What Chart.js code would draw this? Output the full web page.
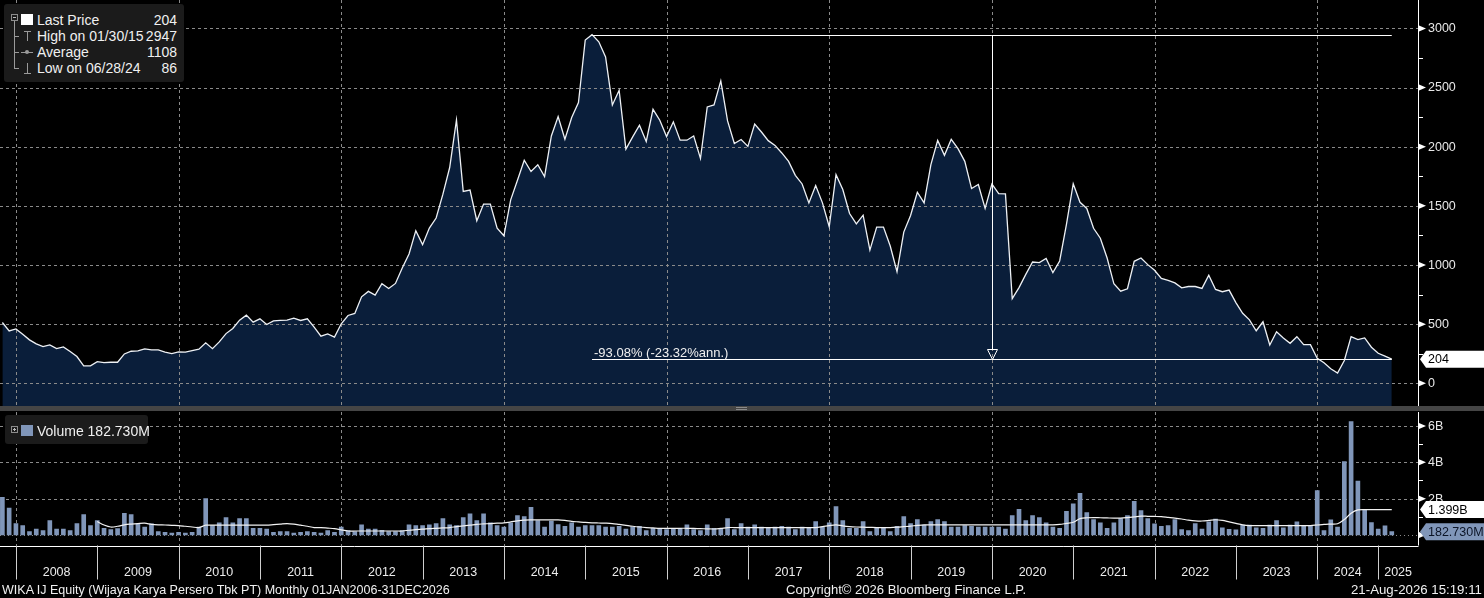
<!DOCTYPE html>
<html>
<head>
<meta charset="utf-8">
<script src="https://cdn.jsdelivr.net/npm/chart.js@4.4.1/dist/chart.umd.min.js"></script>
<style>
  html, body { margin:0; padding:0; background:#000; width:1484px; height:598px; overflow:hidden;
    font-family:"Liberation Sans", Arial, sans-serif; color:#f0f0f0; }
  canvas { position:absolute; left:0; }
  #priceCanvas { top:0; }
  #volCanvas { top:412px; }
  #band { position:absolute; left:0; top:406px; width:1484px; height:5px; background:#454545; }
  #band i { position:absolute; left:736px; width:11px; height:1px; background:#8a8a8a; }
  .legend { position:absolute; background:#1b1b1b; border-radius:3px; font-size:14px; }
  .legend span { position:absolute; line-height:16px; white-space:nowrap; }
  .legend .v { right:7px; text-align:right; }
  .legend b { position:absolute; display:block; background:#9a9a9a; }
  .box { position:absolute; width:5px; height:5px; border:1px solid #8c8c8c; }
  .box:before { content:""; position:absolute; left:1px; top:2px; width:3px; height:1px; background:#bbb; }
  .plus:after { content:""; position:absolute; left:2px; top:1px; width:1px; height:3px; background:#bbb; }
  .foot { position:absolute; top:583px; font-size:13px; line-height:14px; white-space:nowrap; color:#f0f0f0; }
</style>
</head>
<body>
<canvas id="priceCanvas" width="1484" height="406"></canvas>
<div id="band"><i style="top:1px"></i><i style="top:3px"></i></div>
<canvas id="volCanvas" width="1484" height="186"></canvas>

<div class="legend" style="left:4px;top:4px;width:180px;height:78px;">
  <div class="box" style="left:7px;top:10px;"></div>
  <b style="left:10px;top:17px;width:1px;height:48px;"></b>
  <b style="left:10px;top:32px;width:5px;height:1px;"></b>
  <b style="left:10px;top:48px;width:5px;height:1px;"></b>
  <b style="left:10px;top:64px;width:5px;height:1px;"></b>
  <b style="left:17px;top:10px;width:12px;height:11px;background:#fff;"></b>
  <b style="left:20px;top:27px;width:7px;height:1px;"></b>
  <b style="left:23px;top:27px;width:1px;height:10px;"></b>
  <b style="left:17px;top:48px;width:12px;height:1px;"></b>
  <b style="left:21px;top:46px;width:4px;height:4px;border-radius:2px;"></b>
  <b style="left:23px;top:59px;width:1px;height:10px;"></b>
  <b style="left:20px;top:69px;width:7px;height:1px;"></b>
  <span style="left:33px;top:8px;">Last Price</span><span class="v" style="top:8px;">204</span>
  <span style="left:33px;top:24px;">High on 01/30/15</span><span class="v" style="top:24px;">2947</span>
  <span style="left:33px;top:40px;">Average</span><span class="v" style="top:40px;">1108</span>
  <span style="left:33px;top:56px;">Low on 06/28/24</span><span class="v" style="top:56px;">86</span>
</div>

<div class="legend" style="left:5px;top:415px;width:143px;height:29px;">
  <div class="box plus" style="left:6px;top:11px;"></div>
  <b style="left:16px;top:10px;width:12px;height:11px;background:#8096b9;"></b>
  <span style="left:32px;top:8px;">Volume 182.730M</span>
</div>

<span class="foot" id="f1" data-x="2" data-w="448">WIKA IJ Equity (Wijaya Karya Persero Tbk PT) Monthly 01JAN2006-31DEC2026</span>
<span class="foot" id="f2" data-x="786" data-w="240">Copyright© 2026 Bloomberg Finance L.P.</span>
<span class="foot" id="f3" data-x="1351" data-w="131">21-Aug-2026 15:19:11</span>

<script>
// ---- data ----
const years = ['2008','2009','2010','2011','2012','2013','2014','2015','2016',
               '2017','2018','2019','2020','2021','2022','2023','2024','2025'];
const monthNames = ['Jan','Feb','Mar','Apr','May','Jun','Jul','Aug','Sep','Oct','Nov','Dec'];
// months that have a price point (2024 has a trading gap)
const partialYears = {
  2007: ['Oct','Nov','Dec'],
  2024: ['Jan','Feb','Jun','Jul','Aug','Sep','Oct','Nov','Dec'],
  2025: ['Jan','Feb']
};
const months = [];
for (let yr = 2007; yr <= 2025; yr++) {
  (partialYears[yr] || monthNames).forEach(m => months.push(m + ' ' + yr));
}

const price = [
  514, 443, 460,
  415, 367, 333, 310, 325, 293, 308, 268, 226, 147, 147, 183,
  175, 178, 178, 248, 271, 274, 291, 282, 282, 263, 251, 265,
  263, 276, 288, 342, 293, 350, 420, 463, 534, 576, 517, 545,
  497, 528, 531, 534, 551, 531, 545, 475, 398, 418, 390, 503,
  573, 590, 731, 777, 746, 842, 802, 844, 975, 1093, 1290, 1172,
  1312, 1397, 1599, 1824, 2226, 1622, 1633, 1374, 1515, 1515, 1312, 1247,
  1551, 1717, 1886, 1790, 1847, 1748, 2091, 2255, 2063, 2246, 2373, 2902,
  2947, 2887, 2758, 2353, 2477, 1979, 2083, 2181, 2044, 2316, 2224, 2086,
  2210, 2055, 2055, 2091, 1900, 2336, 2353, 2556, 2218, 2027, 2061, 2003,
  2191, 2124, 2051, 2011, 1947, 1876, 1758, 1685, 1525, 1671, 1525, 1323,
  1764, 1638, 1435, 1348, 1421, 1126, 1320, 1320, 1160, 944, 1278, 1419,
  1615, 1525, 1848, 2053, 1927, 2062, 1983, 1876, 1646, 1680, 1478, 1685,
  1604, 1601, 716, 809, 921, 1025, 1020, 1056, 935, 1034, 1343, 1687,
  1530, 1478, 1310, 1226, 1059, 841, 779, 799, 1031, 1059, 1003, 955,
  886, 869, 849, 807, 818, 818, 802, 913, 793, 774, 788, 682,
  592, 536, 444, 520, 324, 436, 383, 338, 394, 327, 327, 212,
  173, 123, 86, 193, 394, 369, 383, 305, 254,
  229, 204
];

// volume in billions of shares
const volume = [
  2.07, 1.48, 0.63,
  0.52, 0.19, 0.33, 0.24, 0.80, 0.33, 0.33, 0.24, 0.63, 1.13, 0.52, 0.80,
  0.37, 0.30, 0.35, 1.19, 1.13, 0.61, 0.43, 0.61, 0.19, 0.15, 0.11, 0.15,
  0.11, 0.15, 0.43, 2.00, 0.52, 0.67, 0.96, 0.67, 0.91, 0.91, 0.37, 0.37,
  0.33, 0.15, 0.19, 0.19, 0.11, 0.15, 0.19, 0.15, 0.11, 0.24, 0.15, 0.44,
  0.24, 0.19, 0.56, 0.33, 0.33, 0.26, 0.19, 0.19, 0.24, 0.56, 0.52, 0.52,
  0.56, 0.63, 0.91, 0.56, 0.52, 0.96, 1.17, 0.80, 1.17, 0.67, 0.52, 0.43,
  0.67, 1.07, 1.02, 1.52, 0.80, 0.43, 0.76, 0.57, 0.48, 0.67, 0.43, 0.52,
  0.52, 0.52, 0.43, 0.43, 0.48, 0.33, 0.43, 0.48, 0.24, 0.37, 0.33, 0.30,
  0.37, 0.37, 0.56, 0.30, 0.24, 0.56, 0.37, 0.37, 0.91, 0.30, 0.63, 0.43,
  0.56, 0.43, 0.37, 0.43, 0.48, 0.43, 0.30, 0.43, 0.37, 0.74, 0.43, 0.67,
  1.56, 0.80, 0.37, 0.37, 0.74, 0.19, 0.37, 0.37, 0.19, 0.48, 1.02, 0.63,
  0.85, 0.54, 0.74, 0.85, 0.74, 0.43, 0.43, 0.52, 0.48, 0.43, 0.43, 0.43,
  0.43, 0.33, 1.07, 1.41, 0.80, 1.07, 0.96, 0.67, 0.43, 0.37, 1.30, 1.72,
  2.30, 1.24, 0.85, 0.67, 0.37, 0.67, 0.91, 1.07, 1.85, 1.35, 0.91, 0.61,
  0.48, 0.52, 0.85, 0.30, 0.24, 0.63, 0.33, 0.73, 0.88, 0.40, 0.31, 0.28,
  0.55, 0.55, 0.40, 0.37, 0.55, 0.79, 0.40, 0.55, 0.72, 0.50, 0.50, 2.44,
  0.24, 0.83, 0.44, 4.04, 6.24, 2.97, 1.38, 0.68, 0.33,
  0.50, 0.18273
];

// volume moving average line (billions), as drawn
const volumeAvg = [
  null, null, null,
  null, null, null, null, null, null, null, null, null, null, null, 0.74,
  0.55, 0.44, 0.48, 0.56, 0.60, 0.63, 0.65, 0.59, 0.56, 0.55, 0.53, 0.52,
  0.48, 0.44, 0.41, 0.54, 0.54, 0.54, 0.54, 0.54, 0.54, 0.54, 0.54, 0.54,
  0.54, 0.57, 0.60, 0.63, 0.60, 0.54, 0.48, 0.41, 0.41, 0.38, 0.35, 0.28,
  0.22, 0.22, 0.22, 0.22, 0.22, 0.22, 0.22, 0.22, 0.22, 0.26, 0.30, 0.32,
  0.35, 0.37, 0.39, 0.41, 0.46, 0.50, 0.54, 0.59, 0.61, 0.63, 0.65, 0.67,
  0.72, 0.78, 0.82, 0.83, 0.83, 0.83, 0.83, 0.83, 0.80, 0.75, 0.72, 0.69,
  0.67, 0.66, 0.65, 0.63, 0.58, 0.53, 0.48, 0.44, 0.41, 0.39, 0.37, 0.37,
  0.37, 0.37, 0.37, 0.36, 0.35, 0.34, 0.33, 0.36, 0.41, 0.41, 0.41, 0.41,
  0.41, 0.41, 0.41, 0.41, 0.41, 0.41, 0.41, 0.41, 0.41, 0.41, 0.46, 0.52,
  0.56, 0.50, 0.46, 0.44, 0.43, 0.42, 0.41, 0.41, 0.41, 0.43, 0.46, 0.49,
  0.53, 0.56, 0.56, 0.56, 0.56, 0.56, 0.56, 0.56, 0.56, 0.56, 0.56, 0.56,
  0.56, 0.56, 0.56, 0.56, 0.56, 0.56, 0.56, 0.56, 0.56, 0.58, 0.64, 0.70,
  0.90, 0.95, 0.96, 0.95, 0.94, 0.93, 0.93, 0.96, 1.00, 1.04, 1.03, 1.02,
  1.01, 0.97, 0.93, 0.88, 0.82, 0.78, 0.77, 0.80, 0.84, 0.80, 0.72, 0.64,
  0.56, 0.52, 0.52, 0.52, 0.52, 0.52, 0.52, 0.52, 0.52, 0.52, 0.52, 0.55,
  0.58, 0.60, 0.62, 0.85, 1.20, 1.38, 1.40, 1.40, 1.40,
  1.40, 1.399
];

const priceTicks = [0, 500, 1000, 1500, 2000, 2500, 3000];
const priceMinor = [250, 750, 1250, 1750, 2250, 2750];
const volumeTicks = [0, 2, 4, 6];
const volumeTickLabels = ['0', '2B', '4B', '6B'];
const volumeMinor = [1, 3, 5];

// ---- helpers ----
const FONT = '"Liberation Sans", Arial, sans-serif';
const GRID = '#8a8a8a';
const X_MIN = -0.35, X_MAX = 208.87;

// index of the December point that closes the previous year
function yearSep(yr) {
  return months.findIndex(m => m.endsWith(' ' + yr)) - 1;
}
const seps = years.map(yearSep);
const gridIdx = years.filter(y => +y % 2 === 0).map(yearSep);

function line(ctx, x1, y1, x2, y2) {
  ctx.beginPath(); ctx.moveTo(x1, y1); ctx.lineTo(x2, y2); ctx.stroke();
}
function crisp(v) { return Math.round(v) + 0.5; }

function drawYAxis(ctx, a, y, ticks, labels, minor) {
  ctx.save();
  ctx.strokeStyle = '#ffffff'; ctx.lineWidth = 1; ctx.setLineDash([]);
  line(ctx, crisp(a.right), a.top, crisp(a.right), a.bottom);
  ctx.fillStyle = '#ffffff';
  ticks.forEach(v => {
    const py = y.getPixelForValue(v);
    ctx.beginPath();
    ctx.moveTo(a.right + 1, py - 3); ctx.lineTo(a.right + 8, py); ctx.lineTo(a.right + 1, py + 3);
    ctx.closePath(); ctx.fill();
  });
  minor.forEach(v => {
    const py = crisp(y.getPixelForValue(v));
    line(ctx, a.right, py, a.right + 5, py);
  });
  ctx.fillStyle = '#e8e8e8';
  ctx.font = '12.5px ' + FONT;
  ctx.textBaseline = 'middle'; ctx.textAlign = 'left';
  ticks.forEach((v, k) => ctx.fillText(labels[k], a.right + 10, y.getPixelForValue(v) + 0.5));
  ctx.restore();
}

function valueBox(ctx, a, py, text, bg, fg, w) {
  const h = 17;
  ctx.save();
  ctx.fillStyle = bg;
  ctx.beginPath();
  ctx.moveTo(a.right + 2, py);
  ctx.lineTo(a.right + 8, py - h / 2);
  ctx.lineTo(w, py - h / 2);
  ctx.lineTo(w, py + h / 2);
  ctx.lineTo(a.right + 8, py + h / 2);
  ctx.closePath(); ctx.fill();
  ctx.fillStyle = fg;
  ctx.font = '12.5px ' + FONT;
  ctx.textBaseline = 'middle'; ctx.textAlign = 'left';
  ctx.fillText(text, a.right + 10, py + 0.5);
  ctx.restore();
}

// ---- price chart ----
const pricePts = price.map((v, i) => ({ x: i, y: v }));

const priceDecor = {
  id: 'priceDecor',
  afterDatasetDraw(chart, args) {
    if (args.index !== 0) return; // grid sits on the area fill, under the line
    const { ctx, chartArea: a, scales: { x, y } } = chart;
    ctx.save();
    ctx.strokeStyle = GRID; ctx.lineWidth = 1; ctx.setLineDash([3, 3]);
    priceTicks.forEach(v => { const py = crisp(y.getPixelForValue(v)); line(ctx, a.left, py, a.right, py); });
    gridIdx.forEach(i => { const px = crisp(x.getPixelForValue(i)); line(ctx, px, a.top, px, a.bottom); });
    ctx.restore();
  },
  afterDraw(chart) {
    const { ctx, chartArea: a, scales: { x, y } } = chart;
    drawYAxis(ctx, a, y, priceTicks, priceTicks.map(String), priceMinor);

    const hi = price.indexOf(Math.max(...price));
    const last = price.length - 1;
    const xh = x.getPixelForValue(hi), xl = x.getPixelForValue(last);
    const yh = crisp(y.getPixelForValue(price[hi])), yl = crisp(y.getPixelForValue(price[last]));
    const xm = crisp((xh + xl) / 2);
    ctx.save();
    ctx.strokeStyle = '#ffffff'; ctx.lineWidth = 1;
    line(ctx, xh, yh, xl, yh);
    line(ctx, xh, yl, xl, yl);
    line(ctx, xm, yh, xm, yl - 10);
    ctx.beginPath();
    ctx.moveTo(xm - 5, yl - 10); ctx.lineTo(xm + 5, yl - 10); ctx.lineTo(xm, yl); ctx.closePath();
    ctx.stroke();
    const chg = ((price[last] - price[hi]) / price[hi] * 100).toFixed(2);
    ctx.fillStyle = '#f0f0f0';
    ctx.font = '13px ' + FONT;
    ctx.textBaseline = 'alphabetic'; ctx.textAlign = 'left';
    ctx.fillText(chg + '% (-23.32%ann.)', xh + 2, yl - 3);
    ctx.restore();

    valueBox(ctx, a, y.getPixelForValue(price[last]), String(price[last]), '#ffffff', '#000000', chart.width);
  }
};

new Chart(document.getElementById('priceCanvas'), {
  type: 'line',
  data: {
    labels: months,
    datasets: [
      { label: 'area', data: pricePts, borderWidth: 0, pointRadius: 0, fill: 'start',
        backgroundColor: '#0a1e3a', order: 2 },
      { label: 'Last Price', data: pricePts, borderColor: '#eef1f5', borderWidth: 1.3,
        pointRadius: 0, fill: false, order: 1 }
    ]
  },
  options: {
    responsive: false, animation: false, events: [],
    layout: { padding: 0 },
    plugins: { legend: { display: false }, tooltip: { enabled: false } },
    scales: {
      x: { type: 'linear', min: X_MIN, max: X_MAX, display: false },
      y: { position: 'right', min: -192, max: 3240,
           grid: { display: false, drawTicks: false }, border: { display: false },
           ticks: { display: false },
           afterFit(s) { s.width = 66; } }
    }
  },
  plugins: [priceDecor]
});

// ---- volume chart ----
const volPts = volume.map((v, i) => ({ x: i, y: v }));
const avgPts = volumeAvg.map((v, i) => ({ x: i, y: v }));

const volDecor = {
  id: 'volDecor',
  beforeDatasetsDraw(chart) {
    const { ctx, chartArea: a, scales: { x, y } } = chart;
    ctx.save();
    ctx.strokeStyle = GRID; ctx.lineWidth = 1;
    volumeTicks.forEach(v => {
      ctx.setLineDash(v === 0 ? [1, 3] : [3, 3]);
      const py = crisp(y.getPixelForValue(v)); line(ctx, a.left, py, a.right, py);
    });
    ctx.setLineDash([3, 3]);
    gridIdx.forEach(i => { const px = crisp(x.getPixelForValue(i)); line(ctx, px, a.top, px, a.bottom); });
    ctx.restore();
  },
  afterDraw(chart) {
    const { ctx, chartArea: a, scales: { x, y } } = chart;
    drawYAxis(ctx, a, y, volumeTicks, volumeTickLabels, volumeMinor);

    // time axis
    ctx.save();
    ctx.strokeStyle = '#ffffff'; ctx.lineWidth = 1;
    line(ctx, 0, crisp(a.bottom), a.right + 0.5, crisp(a.bottom));
    ctx.strokeStyle = '#cfcfcf';
    seps.forEach(i => { const px = crisp(x.getPixelForValue(i)); line(ctx, px, a.bottom, px, a.bottom + 34); });
    ctx.fillStyle = '#ececec';
    ctx.font = '12.5px ' + FONT;
    ctx.textAlign = 'center'; ctx.textBaseline = 'middle';
    years.forEach((yr, k) => {
      const x0 = x.getPixelForValue(seps[k]);
      const x1 = k + 1 < seps.length ? x.getPixelForValue(seps[k + 1]) : a.right;
      ctx.fillText(yr, (x0 + x1) / 2, a.bottom + 27);
    });
    ctx.restore();

    const last = volume.length - 1;
    valueBox(ctx, a, y.getPixelForValue(volumeAvg[last]), volumeAvg[last].toFixed(3) + 'B',
             '#ffffff', '#000000', chart.width);
    valueBox(ctx, a, y.getPixelForValue(volume[last]), (volume[last] * 1000).toFixed(3) + 'M',
             '#8096b9', '#0b1426', chart.width);
  }
};

new Chart(document.getElementById('volCanvas'), {
  type: 'bar',
  data: {
    labels: months,
    datasets: [
      { type: 'line', label: 'Average', data: avgPts, borderColor: '#f2f2f2', borderWidth: 1.2,
        pointRadius: 0, fill: false, tension: 0.3, order: 1 },
      { type: 'bar', label: 'Volume', data: volPts, backgroundColor: '#8096b9',
        barThickness: 4, order: 2 }
    ]
  },
  options: {
    responsive: false, animation: false, events: [],
    layout: { padding: { left: 0, right: 0, top: 0, bottom: 52.5 } },
    plugins: { legend: { display: false }, tooltip: { enabled: false } },
    scales: {
      x: { type: 'linear', min: X_MIN, max: X_MAX, display: false, offset: false },
      y: { position: 'right', min: -0.578, max: 6.77,
           grid: { display: false, drawTicks: false }, border: { display: false },
           ticks: { display: false },
           afterFit(s) { s.width = 66; } }
    }
  },
  plugins: [volDecor]
});

// footer texts: size each to the width it takes in the original
document.querySelectorAll('.foot').forEach(el => {
  el.style.left = el.dataset.x + 'px';
  const w = el.getBoundingClientRect().width;
  el.style.fontSize = (13 * (+el.dataset.w) / w).toFixed(2) + 'px';
});
</script>
</body>
</html>
